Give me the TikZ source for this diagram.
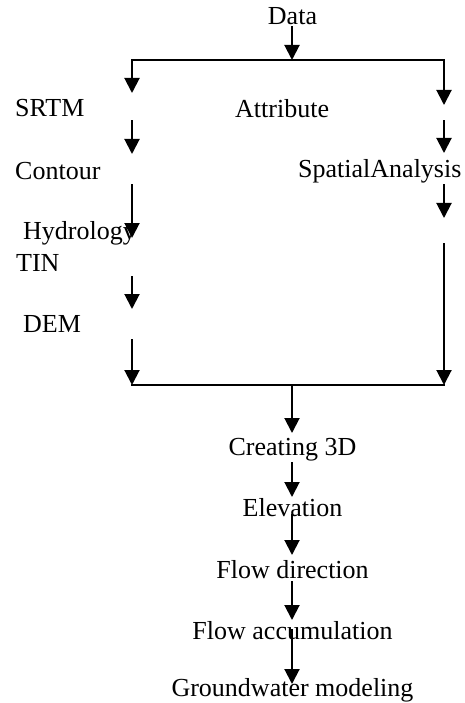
\documentclass[tikz,border=0pt]{standalone}
\usepackage{fontspec}
\setmainfont{Liberation Serif}
\usetikzlibrary{arrows.meta}

\tikzset{
	lbl/.style = {inner sep=0pt, font=\fontsize{26}{30}\selectfont},
	ln/.style = {line width=2pt, line cap=rect},
	arr/.style = {ln, -{Triangle[length=15pt,width=15pt]}}
}

\begin{document}
\begin{tikzpicture}[x=1pt, y=-1pt]
	\useasboundingbox (0,0) rectangle (465,703);
	% labels
	\node[lbl, anchor=base] (data) at (292.5,25) {Data};
	\node[lbl, anchor=base west] (srtm) at (15,117) {SRTM};
	\node[lbl, anchor=base west] (attr) at (235,118) {Attribute};
	\node[lbl, anchor=base west] (contour) at (15,180) {Contour};
	\node[lbl, anchor=base west] (spatial) at (298,178) {SpatialAnalysis};
	\node[lbl, anchor=base west] (hydro) at (23,239) {Hydrology};
	\node[lbl, anchor=base west] (tin) at (16,271) {TIN};
	\node[lbl, anchor=base west] (dem) at (23,332) {DEM};
	\node[lbl, anchor=base] (create) at (292.5,455) {Creating 3D};
	\node[lbl, anchor=base] (elev) at (292.5,516) {Elevation};
	\node[lbl, anchor=base] (fdir) at (292.5,578) {Flow direction};
	\node[lbl, anchor=base] (facc) at (292.5,639) {Flow accumulation};
	\node[lbl, anchor=base] (gwm) at (292.5,696) {Groundwater modeling};
	% frame lines
	\coordinate (ltop) at (132,60);
	\coordinate (rtop) at (444,60);
	\coordinate (lbot) at (132,385);
	\coordinate (rbot) at (444,385);
	\draw[ln] (ltop) -- (rtop);
	\draw[ln] (lbot) -- (rbot);
	% left column
	\foreach \a/\b [count=\i] in {60/93, 121/154, 185/238, 277/309, 340/385} {
		\coordinate (l\i a) at (132,\a);
		\coordinate (l\i b) at (132,\b);
		\draw[arr] (l\i a) -- (l\i b);
	}
	% right column
	\foreach \a/\b [count=\i] in {60/105, 121/153, 185/218, 244/385} {
		\coordinate (r\i a) at (444,\a);
		\coordinate (r\i b) at (444,\b);
		\draw[arr] (r\i a) -- (r\i b);
	}
	% centre column
	\foreach \a/\b [count=\i] in {27/60, 385/433, 463/497, 515/555, 582/620, 630/684} {
		\coordinate (m\i a) at (292,\a);
		\coordinate (m\i b) at (292,\b);
		\draw[arr] (m\i a) -- (m\i b);
	}
\end{tikzpicture}
\end{document}
